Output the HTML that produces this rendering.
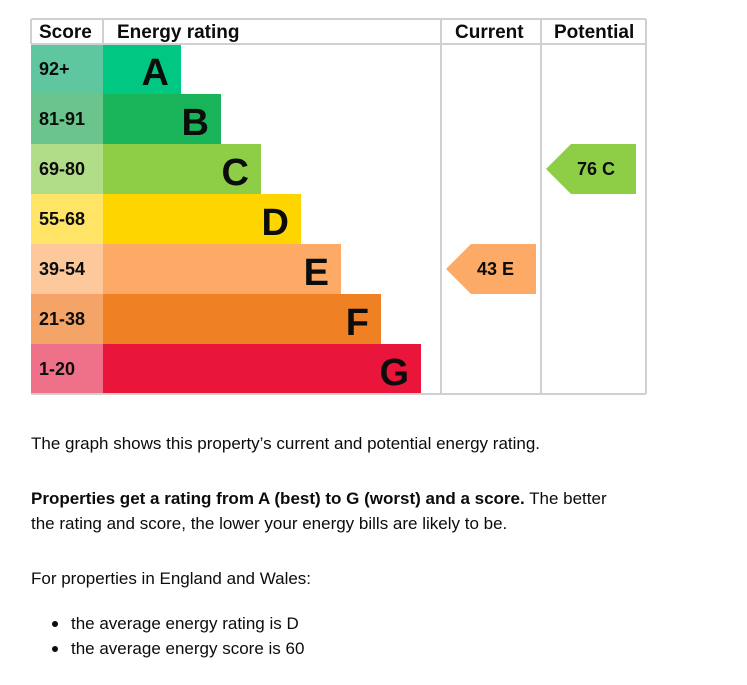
<!DOCTYPE html>
<html><head><meta charset="utf-8"><style>
body{margin:0;background:#fff;width:747px;height:685px;overflow:hidden;font-family:"Liberation Sans",Arial,sans-serif;color:#0b0c0c;position:relative}
.t{position:absolute;left:31px;font-size:17px;white-space:nowrap;line-height:20px}
.b{font-weight:bold}
.dot{position:absolute;left:52px;width:6px;height:6px;border-radius:50%;background:#0b0c0c}
</style></head><body>
<svg id="chart" width="747" height="400" style="position:absolute;left:0;top:0"></svg>
<div class="t" style="top:434px">The graph shows this property’s current and potential energy rating.</div>
<div class="t" style="top:489px"><span class="b">Properties get a rating from A (best) to G (worst) and a score.</span> The better</div>
<div class="t" style="top:514px">the rating and score, the lower your energy bills are likely to be.</div>
<div class="t" style="top:569px">For properties in England and Wales:</div>
<div class="dot" style="top:621px"></div>
<div class="t" style="top:614px;left:71px">the average energy rating is D</div>
<div class="dot" style="top:646px"></div>
<div class="t" style="top:639px;left:71px">the average energy score is 60</div>
<script>
const bands=["A","B","C","D","E","F","G"];
const scoreRanges=["92+","81-91","69-80","55-68","39-54","21-38","1-20"];
const bandMin=[92,81,69,55,39,21,1];
const barColors=["#00c781","#19b459","#8dce46","#ffd500","#fcaa65","#ef8023","#e9153b"];
const scoreColors=["#5fc7a0","#6ac48c","#b1dc88","#ffe466","#fdc89c","#f3a466","#ef7189"];
const currentScore=43, potentialScore=76;
const NS="http://www.w3.org/2000/svg";
const svg=document.getElementById('chart');
function mk(tag,attrs,parent){const e=document.createElementNS(NS,tag);for(const k in attrs)e.setAttribute(k,attrs[k]);(parent||svg).appendChild(e);return e;}
const L=31,R=646,T=19,H0=25,RH=50,SC=103,C1=441,C2=541;
const rowY=i=>T+H0+i*RH;
const barW=i=>78+i*40;
function bandOf(s){for(let i=0;i<bandMin.length;i++)if(s>=bandMin[i])return i;return 6;}
// header
[["Score",39],["Energy rating",117],["Current",455],["Potential",554]].forEach((h,i)=>{
  const t=mk('text',{x:h[1],y:T+19,'font-size':19,'font-weight':'bold',fill:'#0b0c0c'});t.textContent=h[0];
  
  
});
bands.forEach((b,i)=>{
  const y=rowY(i);
  const s=mk('rect',{x:L,y:y,width:SC-L,height:RH,fill:scoreColors[i]});
  
  
  const st=mk('text',{x:39,y:y+31,'font-size':18,'font-weight':'bold',fill:'#0b0c0c'});st.textContent=scoreRanges[i];
  
  
  const r=mk('rect',{x:SC,y:y,width:barW(i),height:RH,fill:barColors[i]});
  
  
  const bt=mk('text',{x:SC+barW(i)-12,y:y+41,'font-size':38,'font-weight':'bold','text-anchor':'end',fill:'#0b0c0c'});bt.textContent=b;
  
  
});
// grid lines
const g='#d0d0d0';
[[L,T,R,T],[L,T+H0,R,T+H0],[L,T+H0+7*RH,R,T+H0+7*RH],[SC,T,SC,T+H0],[C1,T,C1,T+H0+7*RH],[C2,T,C2,T+H0+7*RH],[R,T,R,T+H0+7*RH],[L,T,L,T+H0]].forEach((l,i)=>{
  const e=mk('line',{x1:l[0],y1:l[1],x2:l[2],y2:l[3],stroke:g,'stroke-width':2});
  
  
});
function arrow(score,x0,name){
  const i=bandOf(score),y=rowY(i),w=90,tip=25;
  const p=mk('polygon',{points:`${x0},${y+RH/2} ${x0+tip},${y} ${x0+w},${y} ${x0+w},${y+RH} ${x0+tip},${y+RH}`,fill:barColors[i]});
  
  
  const t=mk('text',{x:x0+31,y:y+31,'font-size':18,'font-weight':'bold',fill:'#0b0c0c','xml:space':'preserve'});
  t.textContent=score+'  '+bands[i];
  
  
}
arrow(currentScore,446,'current');
arrow(potentialScore,546,'potential');
</script>
</body></html>
